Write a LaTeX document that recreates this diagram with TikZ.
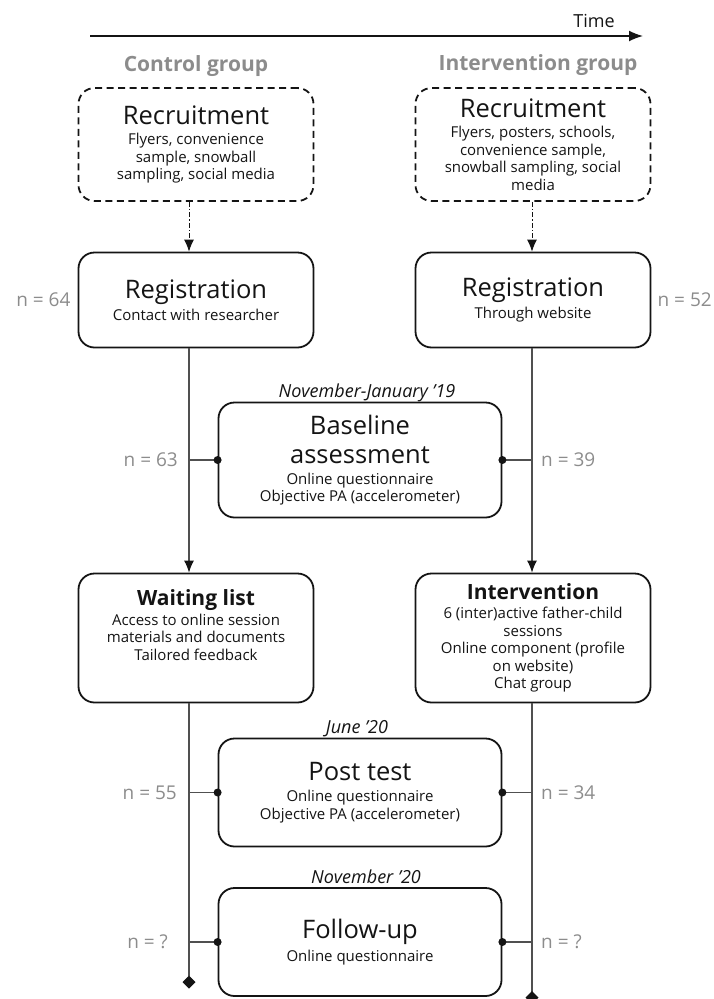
\documentclass[tikz,border=0pt]{standalone}
\usepackage{fontspec}
\setmainfont{Open Sans}
\usepackage{tikz}
\usetikzlibrary{arrows.meta}
\usetikzlibrary{positioning}

\definecolor{labelgray}{RGB}{140,140,140}
\definecolor{linegray}{RGB}{80,80,80}
\definecolor{inkblack}{RGB}{20,20,20}

\newcommand{\bigtxt}{\fontsize{25.5}{32}\selectfont}
\newcommand{\subtxt}{\fontsize{15}{17.5}\selectfont}
\newcommand{\headtxt}{\bfseries\fontsize{21}{25}\selectfont}

\begin{document}
\begin{tikzpicture}[x=1pt, y=-1pt,
    stage/.style={draw=inkblack, text=inkblack, line width=1.8pt, rounded corners=16pt,
      align=center, font=\subtxt, inner sep=0pt},
    recbox/.style={stage, dash pattern=on 7pt off 4.5pt},
    link/.style={draw=linegray, line width=1.2pt},
    recarrow/.style={draw=inkblack, line width=1pt,
      dash pattern=on 5pt off 2pt on 1.5pt off 2pt, -{Latex[length=12pt,width=10pt]}},
    nlabel/.style={text=labelgray, font=\fontsize{19}{22}\selectfont, inner sep=0pt},
    grouplabel/.style={text=labelgray, font=\bfseries\fontsize{21}{24}\selectfont},
    datelabel/.style={text=inkblack, font=\itshape\fontsize{18}{20}\selectfont, inner sep=0pt}
  ]
  \useasboundingbox (0,0) rectangle (713,999);

  % time axis and column heads
  \coordinate (t0) at (90,36);
  \coordinate (t1) at (643,36);
  \draw[inkblack, line width=1.6pt, -{Latex[length=14pt,width=11pt]}] (t0) -- (t1);
  \node[text=inkblack, font=\fontsize{18}{20}\selectfont] (time) at (594,21) {Time};
  \node[grouplabel] (ctrlhead) at (196,66) {Control group};
  \node[grouplabel] (intvhead) at (538,65) {Intervention group};

  % boxes
  \node[recbox, minimum width=235pt, minimum height=113pt] (rec1) at (196,144.5)
    {{\bigtxt Recruitment}\\[3pt] Flyers, convenience\\ sample, snowball\\ sampling, social media};
  \node[recbox, minimum width=235pt, minimum height=113pt] (rec2) at (533,144.5)
    {{\bigtxt Recruitment}\\[3pt] Flyers, posters, schools,\\ convenience sample,\\ snowball sampling, social\\ media};
  \node[stage, minimum width=235pt, minimum height=95pt] (reg1) at (196,300)
    {{\bigtxt Registration}\\[4pt] Contact with researcher};
  \node[stage, minimum width=235pt, minimum height=95pt] (reg2) at (533,300)
    {{\bigtxt Registration}\\[4pt] Through website};
  \node[stage, minimum width=283pt, minimum height=115pt] (base) at (360,460)
    {{\bigtxt Baseline}\\[12pt] {\bigtxt assessment}\\[3pt] Online questionnaire\\ Objective PA (accelerometer)};
  \node[stage, minimum width=235pt, minimum height=129pt] (wait) at (196,638)
    {{\headtxt Waiting list}\\[2pt] Access to online session\\ materials and documents\\ Tailored feedback\\[8pt]};
  \node[stage, minimum width=235pt, minimum height=129pt] (intv) at (533,638)
    {{\headtxt Intervention}\\[2pt] 6 (inter)active father-child\\ sessions\\ Online component (profile\\ on website)\\ Chat group};
  \node[stage, minimum width=283pt, minimum height=108pt] (post) at (360,792.5)
    {{\bigtxt Post test}\\[4pt] Online questionnaire\\ Objective PA (accelerometer)};
  \node[stage, minimum width=283pt, minimum height=108pt] (follow) at (360,942)
    {{\bigtxt Follow-up}\\[4pt] Online questionnaire};

  % dates
  \node[datelabel, anchor=base] (date1) at ([xshift=7pt, yshift=4pt]base.north) {November-January '19};
  \node[datelabel, anchor=base] (date2) at ([xshift=-3pt, yshift=4pt]post.north) {June '20};
  \node[datelabel, anchor=base] (date3) at ([xshift=6pt, yshift=4pt]follow.north) {November '20};

  % time lines of both groups
  \coordinate (ctrl) at (189,0);
  \coordinate (intvx) at (532,0);
  \coordinate (ctrlend) at (189,988.5);
  \coordinate (intvend) at (532,1004);
  \draw[recarrow] (rec1.south -| ctrl) -- (reg1.north -| ctrl);
  \draw[recarrow] (rec2.south -| intvx) -- (reg2.north -| intvx);
  \draw[link, -{Latex[length=12pt,width=10pt,color=inkblack]}] (reg1.south -| ctrl) -- (wait.north -| ctrl);
  \draw[link, -{Latex[length=12pt,width=10pt,color=inkblack]}] (reg2.south -| intvx) -- (intv.north -| intvx);
  \draw[link, -{Turned Square[length=13pt,width=13pt,color=inkblack]}] (wait.south -| ctrl) -- (ctrlend);
  \draw[link, -{Turned Square[length=13pt,width=13pt,color=inkblack]}] (intv.south -| intvx) -- (intvend);

  % measurements
  \foreach \m in {base, post, follow}{
    \draw[link] (\m.west) -- (\m.west -| ctrl);
    \draw[link] (\m.east) -- (\m.east -| intvx);
    \fill[inkblack] (\m.west) circle (4pt);
    \fill[inkblack] (\m.east) circle (4pt);
  }

  % sample sizes
  \node[nlabel, left=7pt of reg1] (n64) {n = 64};
  \node[nlabel, right=6pt of reg2] (n52) {n = 52};
  \node[nlabel, anchor=east] (n63) at ([xshift=-11pt]base.west -| ctrl) {n = 63};
  \node[nlabel, anchor=west] (n39) at ([xshift=9pt]base.east -| intvx) {n = 39};
  \node[nlabel, anchor=east] (n55) at ([xshift=-12pt]post.west -| ctrl) {n = 55};
  \node[nlabel, anchor=west] (n34) at ([xshift=9pt]post.east -| intvx) {n = 34};
  \node[nlabel, anchor=east] (nq1) at ([xshift=-21pt]follow.west -| ctrl) {n = ?};
  \node[nlabel, anchor=west] (nq2) at ([xshift=9pt]follow.east -| intvx) {n = ?};
\end{tikzpicture}
\end{document}
